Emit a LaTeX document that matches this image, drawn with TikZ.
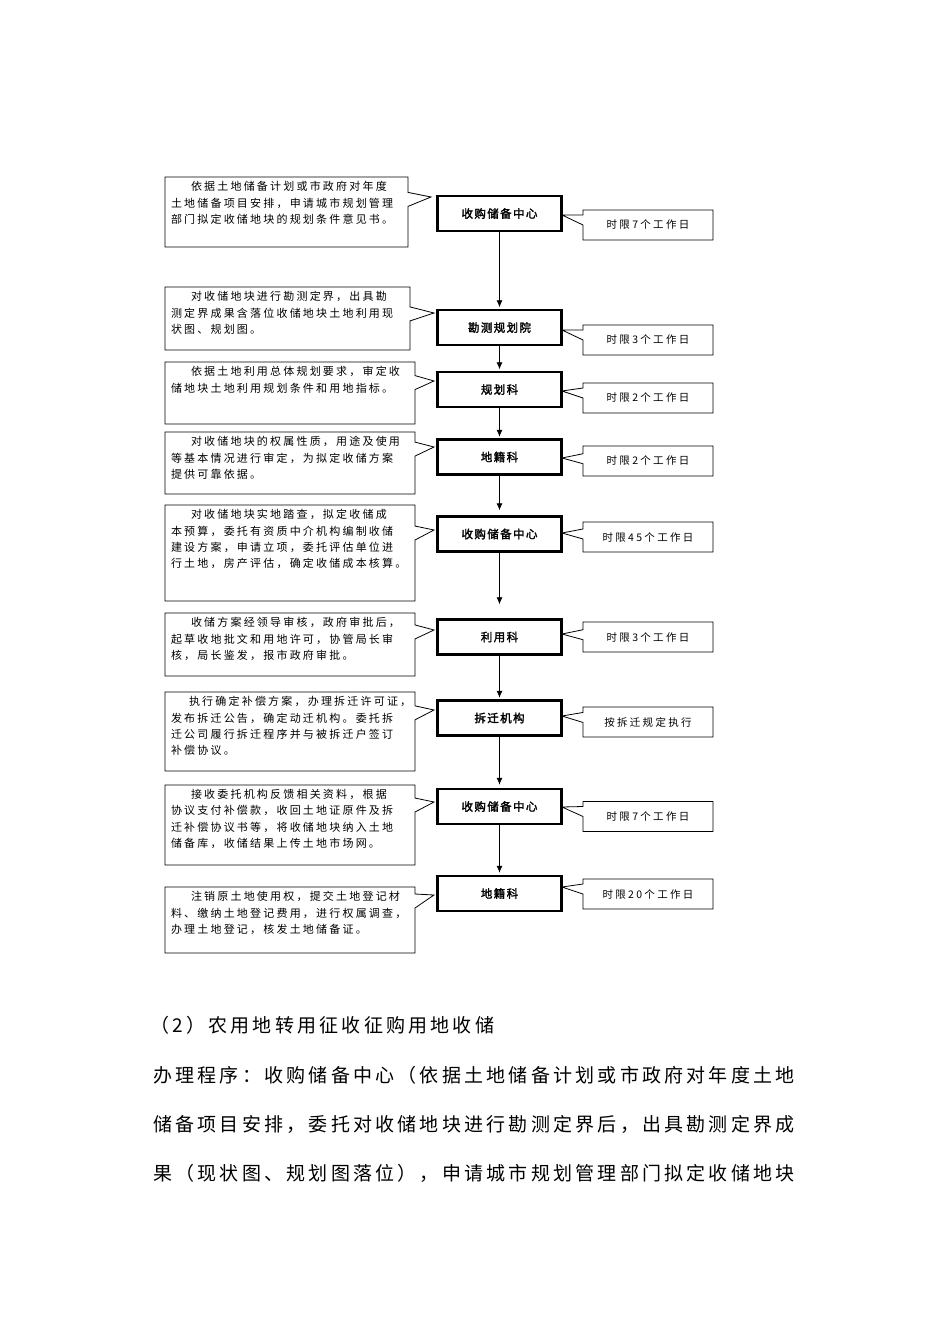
\documentclass[tikz,border=0pt]{standalone}
\usepackage{fontspec}
\usetikzlibrary{shapes.callouts,arrows.meta}
\newfontfamily\cjk{Noto Sans CJK SC}[LetterSpace=20]
\newfontfamily\cjkr{Noto Sans CJK SC}[LetterSpace=22]
\newfontfamily\cjkbold{Noto Sans CJK SC}[LetterSpace=12,FakeBold=2]
\newfontfamily\cjkbody{Noto Sans CJK SC}[LetterSpace=17]
\newcommand\ltext[3]{\parbox[c][#2pt][t]{#1pt}{\setlength\parindent{0pt}\leftskip=6pt\relax\vspace*{4.5pt}#3\par}}
\tikzset{
 lbox/.style={rectangle callout, draw, line width=0.8pt, inner sep=0pt, callout pointer width=14pt, fill=white, font=\cjk\fontsize{11}{16.2}\selectfont},
 cbox/.style={draw, line width=2.4pt, minimum width=124pt, minimum height=35pt, inner sep=0pt, font=\cjkbold\fontsize{11.5}{13}\selectfont},
 rbox/.style={rectangle callout, draw, line width=0.8pt, minimum width=130pt, minimum height=30pt, inner sep=0pt, callout pointer width=10pt, font=\cjkr\fontsize{10.5}{13}\selectfont},
 flow/.style={-{Latex[length=7pt,width=6pt]}, line width=0.8pt},
 body/.style={anchor=west, inner sep=0pt, font=\cjkbody\fontsize{19}{24}\selectfont},
}
\begin{document}
\begin{tikzpicture}[x=1pt,y=-1pt]
\useasboundingbox[fill=white] (0,0) rectangle (950,1343);
% centre boxes
\node[cbox] (c1) at (499.5,213.5) {收购储备中心};
\node[cbox] (c2) at (499.5,327.5) {勘测规划院};
\node[cbox] (c3) at (499.5,389.5) {规划科};
\node[cbox] (c4) at (499.5,457) {地籍科};
\node[cbox] (c5) at (499.5,534) {收购储备中心};
\node[cbox] (c6) at (499.5,637) {利用科};
\node[cbox] (c7) at (499.5,718) {拆迁机构};
\node[cbox] (c8) at (499.5,806.5) {收购储备中心};
\node[cbox] (c9) at (499.5,893.5) {地籍科};
% arrows
\draw[flow, shorten >=1.5pt] (c1) -- (c2);
\draw[flow, shorten >=1.5pt] (c2) -- (c3);
\draw[flow, shorten >=1.5pt] (c3) -- (c4);
\draw[flow, shorten >=5pt] (c4) -- (c5);
\draw[flow, shorten >=14pt] (c5) -- (c6);
\draw[flow, shorten >=1.5pt] (c6) -- (c7);
\draw[flow, shorten >=3pt] (c7) -- (c8);
\draw[flow, shorten >=2pt] (c8) -- (c9);
% left callouts
\node[lbox, callout absolute pointer={(431,197)}] (l1) at (286.5,212) {\ltext{243}{70}{\hspace*{20pt}依据土地储备计划或市政府对年度\\土地储备项目安排，申请城市规划管理\\部门拟定收储地块的规划条件意见书。}};
\node[lbox, callout absolute pointer={(434,313)}] (l2) at (287.5,318.5) {\ltext{245}{63}{\hspace*{20pt}对收储地块进行勘测定界，出具勘\\测定界成果含落位收储地块土地利用现\\状图、规划图。}};
\node[lbox, callout absolute pointer={(434,381)}] (l3) at (290,393) {\ltext{250}{62}{\hspace*{20pt}依据土地利用总体规划要求，审定收\\储地块土地利用规划条件和用地指标。}};
\node[lbox, callout absolute pointer={(434,447)}] (l4) at (290,463) {\ltext{250}{62}{\hspace*{20pt}对收储地块的权属性质，用途及使用\\等基本情况进行审定，为拟定收储方案\\提供可靠依据。}};
\node[lbox, callout absolute pointer={(434,530)}] (l5) at (290,553) {\ltext{250}{96}{\hspace*{20pt}对收储地块实地踏查，拟定收储成\\本预算，委托有资质中介机构编制收储\\建设方案，申请立项，委托评估单位进\\行土地，房产评估，确定收储成本核算。}};
\node[lbox, callout absolute pointer={(434,630)}] (l6) at (290,644.5) {\ltext{250}{63}{\hspace*{20pt}收储方案经领导审核，政府审批后，\\起草收地批文和用地许可，协管局长审\\核，局长鉴发，报市政府审批。}};
\node[lbox, callout absolute pointer={(434,710)}] (l7) at (290,731.5) {\ltext{250}{79}{\hspace*{18pt}执行确定补偿方案，办理拆迁许可证，\\发布拆迁公告，确定动迁机构。委托拆\\迁公司履行拆迁程序并与被拆迁户签订\\补偿协议。}};
\node[lbox, callout absolute pointer={(434,802)}] (l8) at (290,825) {\ltext{250}{80}{\hspace*{20pt}接收委托机构反馈相关资料，根据\\协议支付补偿款，收回土地证原件及拆\\迁补偿协议书等，将收储地块纳入土地\\储备库，收储结果上传土地市场网。}};
\node[lbox, callout absolute pointer={(434,895)}] (l9) at (290,920) {\ltext{250}{66}{\hspace*{20pt}注销原土地使用权，提交土地登记材\\料、缴纳土地登记费用，进行权属调查，\\办理土地登记，核发土地储备证。}};
% right callouts
\node[rbox, callout absolute pointer={(562,215)}] (r1) at (648,225) {时限7个工作日};
\node[rbox, callout absolute pointer={(562,330)}] (r2) at (648,340) {时限3个工作日};
\node[rbox, callout absolute pointer={(562,391)}] (r3) at (648,398) {时限2个工作日};
\node[rbox, callout absolute pointer={(562,458)}] (r4) at (648,461) {时限2个工作日};
\node[rbox, callout absolute pointer={(562,533)}] (r5) at (648,537) {时限45个工作日};
\node[rbox, callout absolute pointer={(562,634)}] (r6) at (648,637) {时限3个工作日};
\node[rbox, callout absolute pointer={(562,716)}] (r7) at (648,722) {按拆迁规定执行};
\node[rbox, callout absolute pointer={(562,807)}] (r8) at (648,816.5) {时限7个工作日};
\node[rbox, callout absolute pointer={(562,887)}] (r9) at (648,894) {时限20个工作日};
% text below
\node[body] (h) at (150,1025) {（2）农用地转用征收征购用地收储};
\node[body] (t1) at (153,1075) {办理程序：收购储备中心（依据土地储备计划或市政府对年度土地};
\node[body] (t2) at (153,1124) {储备项目安排，委托对收储地块进行勘测定界后，出具勘测定界成};
\node[body] (t3) at (153,1173) {果（现状图、规划图落位），申请城市规划管理部门拟定收储地块};
\end{tikzpicture}
\end{document}
